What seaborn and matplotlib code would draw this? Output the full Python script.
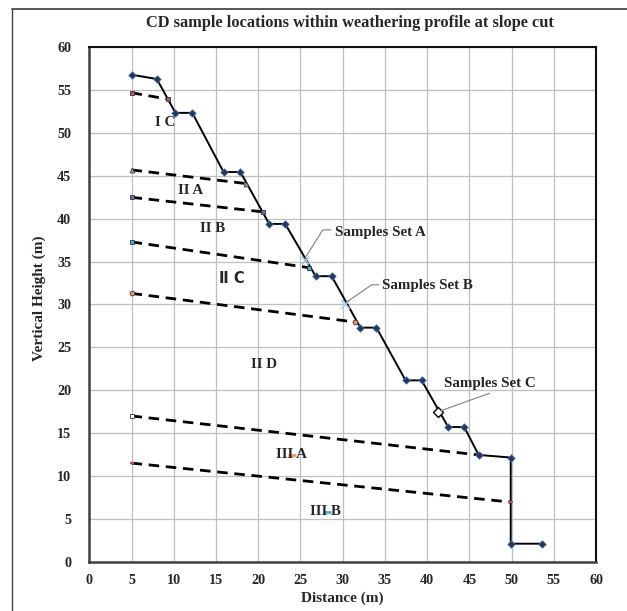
import matplotlib
matplotlib.use("Agg")
import matplotlib.pyplot as plt
import seaborn as sns
import pandas as pd
from matplotlib.lines import Line2D

# ---------------- data ----------------
profile_x = [5.0, 8.0, 10.2, 12.2, 15.9, 17.9, 21.3, 23.2, 26.8, 28.7, 32.1, 34.0,
             37.45, 39.35, 42.5, 44.4, 46.1, 49.9, 49.9, 53.55]
profile_y = [56.8, 56.3, 52.35, 52.35, 45.45, 45.45, 39.4, 39.4, 33.3, 33.3, 27.3, 27.3,
             21.15, 21.15, 15.7, 15.7, 12.45, 12.15, 2.1, 2.1]

boundary_x0 = [5, 5, 5, 5, 5, 5, 5]
boundary_y0 = [54.7, 45.7, 42.5, 37.3, 31.3, 17.0, 11.5]
boundary_x1 = [9.3, 18.6, 20.6, 26.0, 31.5, 46.1, 49.9]
boundary_y1 = [53.95, 44.1, 40.8, 34.3, 27.95, 12.45, 6.95]
boundary_colors = ['#C0504D', '#9BBB59', '#8064A2', '#4BACC6', '#F79646', '#FFFFFF', '#C0504D']
boundary_markers = ['s', '^', 's', 's', 'o', 's', '_']

zone_labels = ['I C', 'II A', 'II B', 'Ⅱ C', 'II D', 'III A', 'III B']
zone_x = [9.0, 12.0, 14.6, 16.85, 20.7, 24.0, 28.0]
zone_y = [51.2, 43.3, 38.9, 33.0, 23.0, 12.45, 5.85]

sample_labels = ['Samples Set A', 'Samples Set B', 'Samples Set C']
sample_x = [25.5, 30.3, 41.3]
sample_y = [35.2, 30.1, 17.5]
label_x = [29.1, 34.7, 42.0]
label_y = [38.45, 32.2, 20.75]
leader_x = [[28.6, 27.64, 25.54], [34.3, 33.44, 30.36], [47.4, 47.4, 41.6]]
leader_y = [[38.7, 38.7, 35.4], [32.3, 32.3, 30.2], [19.65, 19.65, 17.6]]

minor_x = [24.0, 28.2]
minor_y = [12.45, 5.85]
minor_colors = ['#F79646', '#4BACC6']

x_ticks = list(range(0, 61, 5))
y_ticks = list(range(0, 61, 5))

# ---------------- plot ----------------
sns.set_style("white")
plt.rcParams['font.family'] = ['Liberation Serif', 'DejaVu Serif']
plt.rcParams['font.weight'] = 'bold'

fig = plt.figure(figsize=(6.27, 6.11), dpi=100)
ax = fig.add_axes([0.1424, 0.0807, 0.8082, 0.8419])

# outer chart border (only top and left visible in the crop)
fig.add_artist(Line2D([12.3 / 627, 1.0], [1 - 8.5 / 611, 1 - 8.5 / 611],
                      transform=fig.transFigure, color='#555555', linewidth=1.4))
fig.add_artist(Line2D([12.3 / 627, 12.3 / 627], [0.0, 1 - 8.5 / 611],
                      transform=fig.transFigure, color='#444444', linewidth=1.0))

ax.set_xlim(0, 60)
ax.set_ylim(0, 60)
ax.set_xticks(x_ticks)
ax.set_yticks(y_ticks)
ax.grid(True, color='#bfbfbf', linewidth=0.9)
ax.set_axisbelow(True)

# boundaries (dashed)
for i in range(len(boundary_y0)):
    df = pd.DataFrame({'x': [boundary_x0[i], boundary_x1[i]],
                       'y': [boundary_y0[i], boundary_y1[i]]})
    sns.lineplot(data=df, x='x', y='y', ax=ax, color='black', linewidth=2.0,
                 estimator=None, sort=False, zorder=3)
    ax.lines[-1].set_dashes((3.8, 2.4))
    sns.scatterplot(data=df, x='x', y='y', ax=ax, marker=boundary_markers[i],
                    color=boundary_colors[i], s=12,
                    edgecolor='#333355' if boundary_markers[i] != '_' else None,
                    linewidth=0.6 if boundary_markers[i] != '_' else 1.5, zorder=5)

# profile line
dfp = pd.DataFrame({'x': profile_x, 'y': profile_y})
sns.lineplot(data=dfp, x='x', y='y', ax=ax, color='black', linewidth=1.4,
             estimator=None, sort=False, zorder=4)
sns.scatterplot(data=dfp, x='x', y='y', ax=ax, marker='D', color='#1F3864',
                edgecolor='#5a78a8', linewidth=0.5, s=15, zorder=6)

# small stray markers
for i in range(len(minor_x)):
    sns.scatterplot(x=[minor_x[i]], y=[minor_y[i]], ax=ax, marker='_',
                    color=minor_colors[i], s=30, linewidth=2, zorder=2)

# sample set markers
sns.scatterplot(x=[sample_x[0]], y=[sample_y[0]], ax=ax, marker='x',
                color='#9fc4d4', s=30, linewidth=1.1, zorder=7)
sns.scatterplot(x=[sample_x[1]], y=[sample_y[1]], ax=ax, marker='x',
                color='#a8d4ea', s=40, linewidth=1.1, zorder=7)
sns.scatterplot(x=[sample_x[2]], y=[sample_y[2]], ax=ax, marker='D',
                facecolor='white', edgecolor='black', s=26, linewidth=1.0, zorder=7)

# callouts
for i in range(3):
    dfl = pd.DataFrame({'x': leader_x[i], 'y': leader_y[i]})
    sns.lineplot(data=dfl, x='x', y='y', ax=ax, color='#808080', linewidth=0.8,
                 estimator=None, sort=False, zorder=8)
    ax.text(label_x[i], label_y[i], sample_labels[i], fontsize=10.8,
            fontweight='bold', va='center', ha='left', zorder=8)

# zone labels
for i in range(len(zone_labels)):
    if zone_labels[i].startswith('Ⅱ'):
        ax.text(zone_x[i], zone_y[i], zone_labels[i], fontsize=10.5, fontweight='bold',
                ha='center', va='center', family=['DejaVu Sans'], zorder=8)
    else:
        ax.text(zone_x[i], zone_y[i], zone_labels[i], fontsize=10.8, fontweight='bold',
                ha='center', va='center', zorder=8)

fig.text(350 / 627, 1 - 27 / 611,
         'CD sample locations within weathering profile at slope cut',
         fontsize=11.8, fontweight='bold', ha='center', va='baseline')
ax.set_xlabel('')
ax.set_ylabel('')
fig.text(342 / 627, 1 - 598 / 611, 'Distance (m)', fontsize=11, fontweight='bold',
         ha='center', va='center')
fig.text(39 / 627, 1 - 298 / 611, 'Vertical Height (m)', fontsize=11, fontweight='bold',
         ha='center', va='center', rotation=90)

ax.tick_params(axis='both', labelsize=10.2, length=4, width=0.8, color='#808080',
               direction='out')
ax.tick_params(axis='y', pad=9)
ax.tick_params(axis='x', pad=5)
for lab in ax.get_xticklabels() + ax.get_yticklabels():
    lab.set_fontweight('bold')

for side in ['left', 'bottom']:
    ax.spines[side].set_color('#404040')
    ax.spines[side].set_linewidth(1.8)
for side in ['top', 'right']:
    ax.spines[side].set_color('#111111')
    ax.spines[side].set_linewidth(1.5)
    ax.spines[side].set_visible(True)

fig.savefig('out.png', dpi=100)
